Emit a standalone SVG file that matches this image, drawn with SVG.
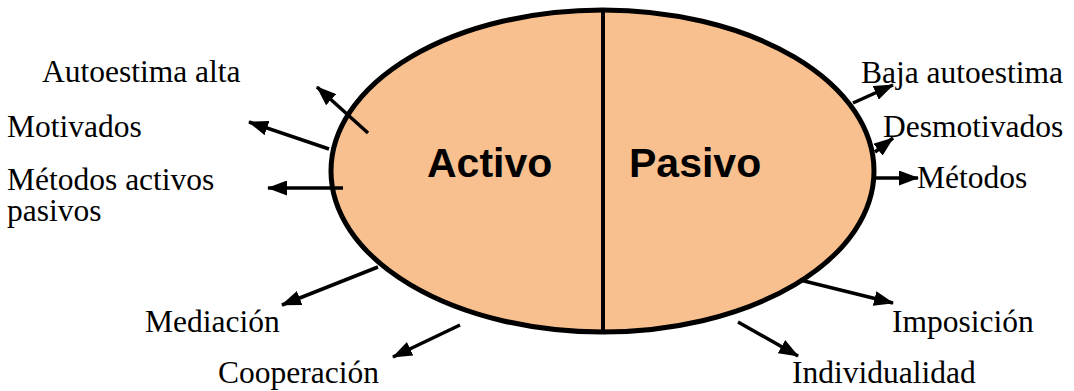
<svg xmlns="http://www.w3.org/2000/svg" width="1074" height="391" viewBox="0 0 1074 391">
  <style>
    .lbl { font-family: "Liberation Serif", "Times New Roman", serif; font-size: 31.5px; fill: #000; }
    .big { font-family: "Liberation Sans", Arial, sans-serif; font-size: 41px; font-weight: bold; fill: #000; }
    .arr { stroke: #000; stroke-width: 3.5; fill: none; marker-end: url(#ah); }
  </style>
  <defs>
    <marker id="ah" markerUnits="userSpaceOnUse" markerWidth="20" markerHeight="15" refX="19" refY="7.5" orient="auto">
      <path d="M0,0 L20,7.5 L0,15 z" fill="#000"/>
    </marker>
  </defs>
  <rect width="1074" height="391" fill="#fff"/>
  <g id="circulo">
    <ellipse cx="602.5" cy="171" rx="271.5" ry="161" fill="#F9C08F" stroke="#000" stroke-width="5"/>
    <line x1="603" y1="10" x2="603" y2="332" stroke="#000" stroke-width="4"/>
    <text class="big" x="427" y="177">Activo</text>
    <text class="big" x="629" y="177">Pasivo</text>
  </g>
  <g id="connectors">
    <line class="arr" x1="368" y1="133" x2="317" y2="87"/>
    <line class="arr" x1="329" y1="149" x2="249" y2="122"/>
    <line class="arr" x1="343" y1="188" x2="268" y2="188"/>
    <line class="arr" x1="378" y1="267" x2="282" y2="305"/>
    <line class="arr" x1="460" y1="325" x2="393" y2="357"/>
    <line class="arr" x1="800" y1="280" x2="893" y2="303"/>
    <line class="arr" x1="738" y1="322" x2="798" y2="356"/>
    <line class="arr" x1="853" y1="103" x2="893" y2="85"/>
    <line class="arr" x1="875" y1="152" x2="893" y2="138"/>
    <line class="arr" x1="876" y1="178" x2="918" y2="178"/>
  </g>
  <g id="autoestima-alta"><text class="lbl" x="42" y="82">Autoestima alta</text></g>
  <g id="motivados"><text class="lbl" x="7" y="137">Motivados</text></g>
  <g id="metodos-activos"><text class="lbl" x="7" y="190">Métodos activos</text><text class="lbl" x="7" y="221">pasivos</text></g>
  <g id="mediacion"><text class="lbl" x="145" y="332">Mediación</text></g>
  <g id="cooperacion"><text class="lbl" x="218" y="383">Cooperación</text></g>
  <g id="baja-autoestima"><text class="lbl" x="861" y="83">Baja autoestima</text></g>
  <g id="desmotivados"><text class="lbl" x="883" y="137">Desmotivados</text></g>
  <g id="metodos"><text class="lbl" x="917" y="188">Métodos</text></g>
  <g id="imposicion"><text class="lbl" x="892" y="332">Imposición</text></g>
  <g id="individualidad"><text class="lbl" x="792" y="383">Individualidad</text></g>
</svg>
